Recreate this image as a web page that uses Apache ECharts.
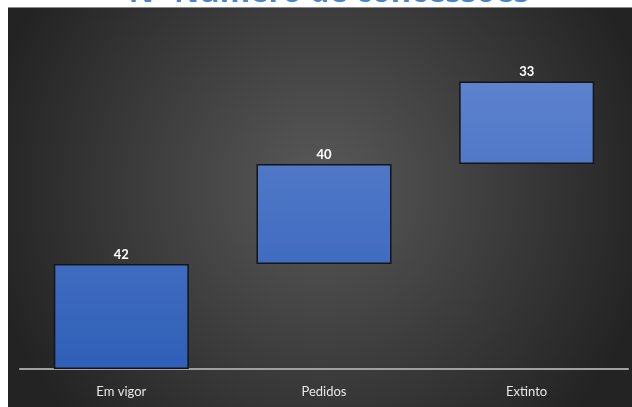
<!DOCTYPE html>
<html>
<head>
<meta charset="utf-8">
<script src="https://cdn.jsdelivr.net/npm/echarts@6/dist/echarts.min.js"></script>
<style>
html,body{margin:0;padding:0;background:#fff;}
#c{width:632px;height:407px;}
</style>
</head>
<body>
<div id="c"></div>
<script>
const titleText = 'Nº Número de concessões';
const categories = ['Em vigor', 'Pedidos', 'Extinto'];
const values = [42, 40, 33];
const bases = [0, 42, 82];

const chart = echarts.init(document.getElementById('c'), null, {renderer: 'canvas'});
chart.setOption({
  animation: false,
  backgroundColor: '#ffffff',
  graphic: [
    {
      type: 'rect', z: -10, silent: true,
      shape: {x: 8, y: 7, width: 624, height: 400},
      style: {
        fill: new echarts.graphic.RadialGradient(0.5, 0.45, 0.85, [
          {offset: 0, color: '#595959'},
          {offset: 1, color: '#232323'}
        ])
      }
    },
    {
      type: 'line', z: -9, silent: true,
      shape: {x1: 8, y1: 7.5, x2: 632, y2: 7.5},
      style: {stroke: '#8a8a8a', lineWidth: 1}
    },
    {
      type: 'text', z: 10, silent: true,
      style: {
        x: 329, y: 8.5, text: titleText, align: 'center', verticalAlign: 'bottom',
        fill: '#4485d0', font: 'bold 31px "Open Sans", sans-serif'
      }
    }
  ],
  grid: {left: 20, right: 4, top: 69, bottom: 38},
  xAxis: {
    type: 'category',
    data: categories,
    axisLine: {lineStyle: {color: '#a0a0a0', width: 2}},
    axisTick: {show: false},
    axisLabel: {color: '#e6e6e6', fontSize: 13, margin: 16, fontFamily: 'Lato, sans-serif'}
  },
  yAxis: {
    type: 'value', min: 0, max: 120,
    show: false,
    splitLine: {show: false}
  },
  series: [
    {
      type: 'bar', stack: 'w', barWidth: 135,
      data: bases,
      itemStyle: {color: 'transparent'},
      emphasis: {disabled: true}
    },
    {
      type: 'bar', stack: 'w', barWidth: 135,
      data: values,
      itemStyle: {
        color: new echarts.graphic.LinearGradient(0, 82, 0, 369, [
          {offset: 0, color: '#5d82ce'},
          {offset: 1, color: '#2f5fb8'}
        ], true),
        borderColor: '#151515', borderWidth: 1.5
      },
      label: {
        show: true, position: 'top', distance: 3,
        color: '#ffffff', fontWeight: 'bold', fontSize: 13, fontFamily: 'Lato, sans-serif'
      }
    }
  ]
});
</script>
</body>
</html>
